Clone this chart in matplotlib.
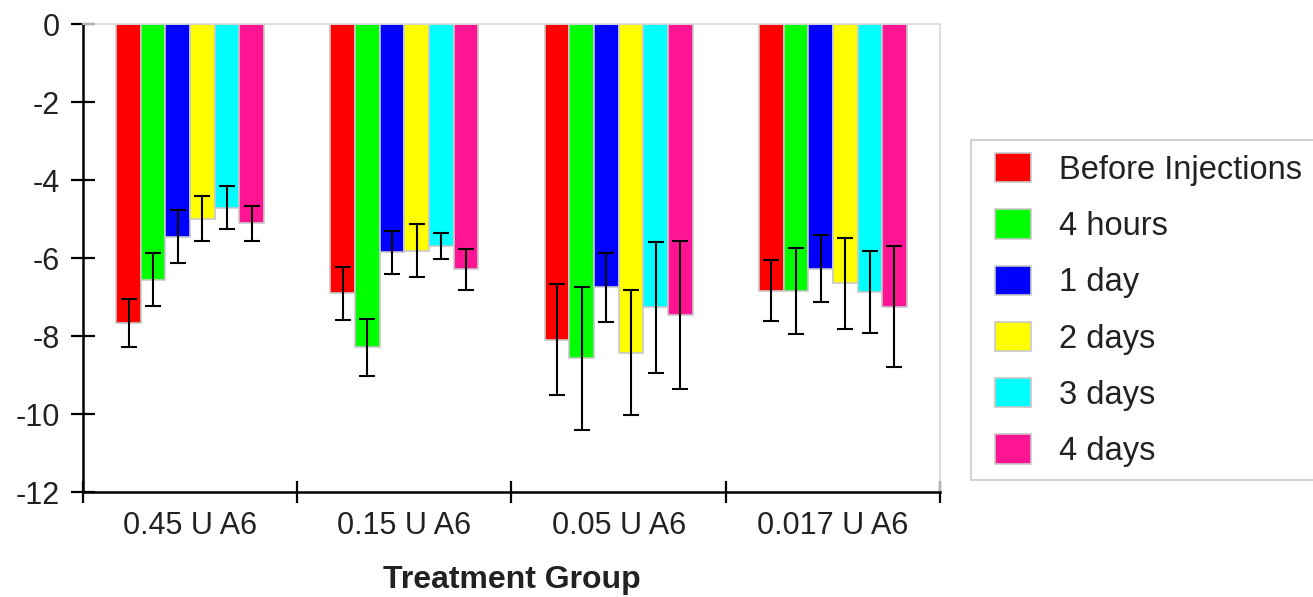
import numpy as np
import matplotlib
matplotlib.use("Agg")
import matplotlib.pyplot as plt
from matplotlib.patches import Rectangle
from matplotlib.container import BarContainer
from matplotlib.legend_handler import HandlerPatch, update_from_first_child

plt.rcParams['font.family'] = ['Liberation Sans', 'DejaVu Sans']
plt.rcParams['axes.unicode_minus'] = False

# data
groups = ["0.45 U A6", "0.15 U A6", "0.05 U A6", "0.017 U A6"]
series = ["Before Injections", "4 hours", "1 day", "2 days", "3 days", "4 days"]
colors = ["#ff0000", "#00ff00", "#0000ff", "#ffff00", "#00ffff", "#ff1493"]

before = [-7.66, -6.91, -8.09, -6.84]
h4 = [-6.56, -8.29, -8.57, -6.84]
d1 = [-5.45, -5.85, -6.75, -6.27]
d2 = [-4.99, -5.81, -8.43, -6.65]
d3 = [-4.71, -5.69, -7.26, -6.87]
d4 = [-5.11, -6.29, -7.46, -7.25]

before_err = [0.62, 0.69, 1.42, 0.78]
h4_err = [0.68, 0.73, 1.83, 1.10]
d1_err = [0.69, 0.55, 0.89, 0.85]
d2_err = [0.58, 0.68, 1.60, 1.16]
d3_err = [0.55, 0.34, 1.68, 1.06]
d4_err = [0.45, 0.52, 1.89, 1.55]

values = [before, h4, d1, d2, d3, d4]
errors = [before_err, h4_err, d1_err, d2_err, d3_err, d4_err]

fig = plt.figure(figsize=(13.13, 5.97), dpi=100)
ax = fig.add_axes([83 / 1313, 1 - 492 / 597, (940 - 83) / 1313, (492 - 24) / 597])

x = np.arange(len(groups))
bw = 0.69 / len(series)
for i, (name, vals, errs, c) in enumerate(zip(series, values, errors, colors)):
    pos = x - 0.69 / 2 + bw * (i + 0.5)
    ax.bar(pos, vals, width=bw, color=c, edgecolor="#c8c8c8", linewidth=1.2, label=name, zorder=2)
    ax.errorbar(pos, vals, yerr=errs, fmt="none", ecolor="black", elinewidth=1.5,
                capsize=5.8, capthick=1.5, zorder=3)

ax.set_xlim(-0.5, len(groups) - 0.5)
ax.set_ylim(-12, 0)
ax.set_yticks(np.arange(-12, 1, 2))
ax.set_xticks(np.arange(-0.5, len(groups), 1.0))
ax.set_xticklabels([])
ax.set_xticks(x, minor=True)
ax.set_xticklabels(groups, minor=True)
ax.tick_params(axis='x', which='minor', length=0, labelsize=22, pad=14, colors='#222222')
ax.tick_params(axis='x', which='major', direction='inout', length=16.5, width=1.6)
ax.tick_params(axis='y', direction='inout', length=17.3, width=1.6, labelsize=22, pad=8,
               labelcolor='#222222')

for s in ['top', 'right']:
    ax.spines[s].set_color('#d8d8d8')
    ax.spines[s].set_linewidth(1.2)
for s in ['left', 'bottom']:
    ax.spines[s].set_color('black')
    ax.spines[s].set_linewidth(1.8)

ax.set_xlabel("Treatment Group", fontsize=23, fontweight='bold', labelpad=17, color='#222222')


# legend swatch drawn at the right end of a wider handle box, so there is more room on the left
def swatch(legend, orig_handle, xdescent, ydescent, width, height, fontsize):
    w = 1.1 * fontsize
    return Rectangle((-xdescent + width - w, -ydescent), w, height)


leg_fs = 23.5
leg = fig.legend(loc='upper left', bbox_to_anchor=(971 / 1313, 1 - 140 / 597),
                 fontsize=leg_fs, frameon=True, fancybox=False, edgecolor='#c8c8c8',
                 handlelength=1.44, handleheight=1.0, labelspacing=0.72,
                 handletextpad=0.86, borderpad=0.4, borderaxespad=0,
                 handler_map={BarContainer: HandlerPatch(patch_func=swatch,
                                                         update_func=update_from_first_child)})
leg.get_frame().set_linewidth(1.5)
for t in leg.get_texts():
    t.set_color('#222222')

fig.savefig("out.png", dpi=100)
